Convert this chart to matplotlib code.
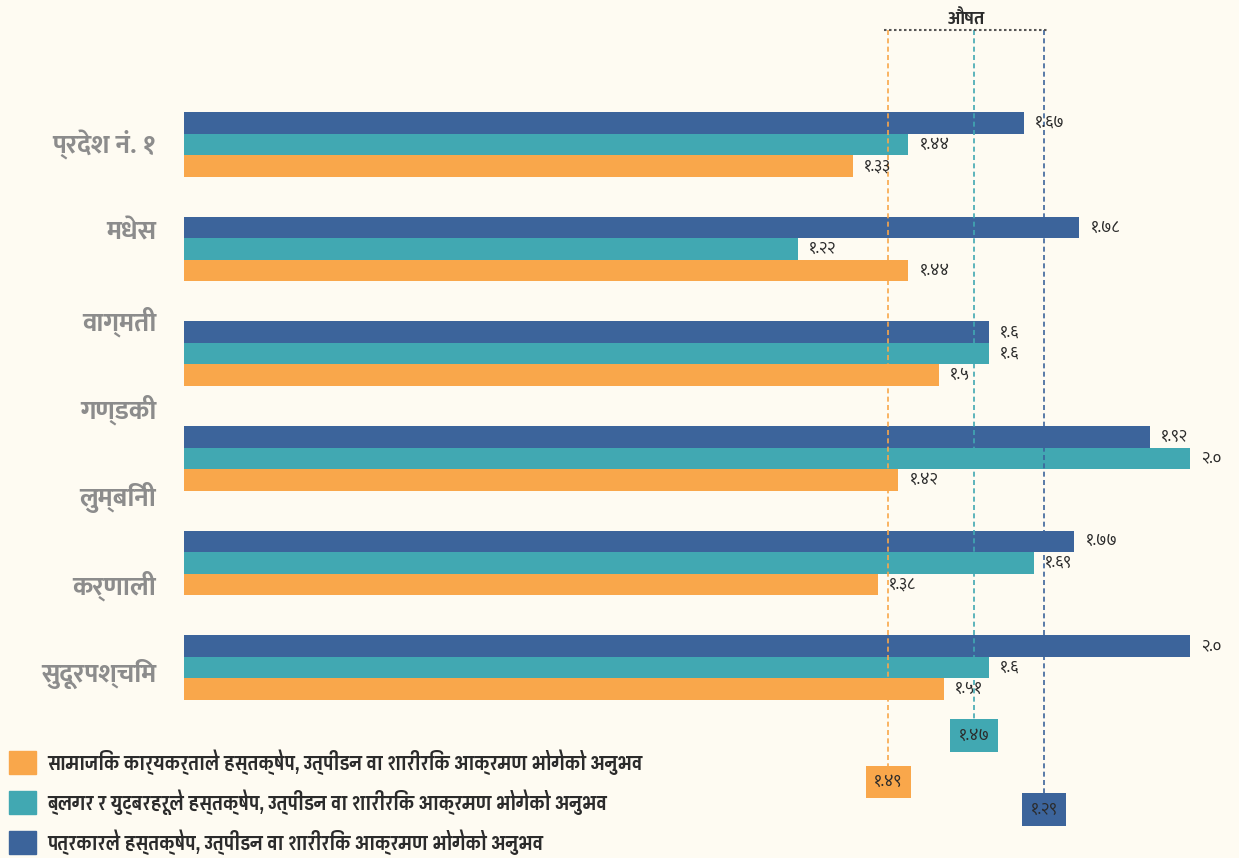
import matplotlib.pyplot as plt
from matplotlib.patches import Patch
import numpy as np

provinces = ["प्रदेश नं. १", "मधेस", "वाग्मती", "गण्डकी", "लुम्बिनी", "कर्णाली", "सुदूरपश्चिम"]
series_names = [
    "सामाजिक कार्यकर्ताले हस्तक्षेप, उत्पीडन वा शारीरिक आक्रमण भोगेको अनुभव",
    "ब्लगर र युट्बरहरूले हस्तक्षेप, उत्पीडन वा शारीरिक आक्रमण भोगेको अनुभव",
    "पत्रकारले हस्तक्षेप, उत्पीडन वा शारीरिक आक्रमण भोगेको अनुभव",
]
# six bar groups as drawn in the source
activists = [1.33, 1.44, 1.5, 1.42, 1.38, 1.51]
bloggers = [1.44, 1.22, 1.6, 2.0, 1.69, 1.6]
journalists = [1.67, 1.78, 1.6, 1.92, 1.77, 2.0]
activist_lbl = ["१.३३", "१.४४", "१.५", "१.४२", "१.३८", "१.५१"]
blogger_lbl = ["१.४४", "१.२२", "१.६", "२.०", "१.६९", "१.६"]
journalist_lbl = ["१.६७", "१.७८", "१.६", "१.९२", "१.७७", "२.०"]

# average markers (line position and printed label as in the source)
avg_pos = [1.40, 1.57, 1.71]
avg_lbl = ["१.४९", "१.४७", "१.२९"]
avg_title = "औषत"

colors = ["#f9a74b", "#41a8b2", "#3c649b"]
bg = "#fefbf2"

fig = plt.figure(figsize=(12.39, 8.58), dpi=100, facecolor=bg)
ax = fig.add_axes([0.1485, 0, 0.8526, 1])
ax.set_facecolor("none")
ax.set_xlim(0, 2.1)
ax.set_ylim(6.821, -1.381)

y = np.arange(len(activists))
h = 0.206
groups = [(journalists, journalist_lbl, colors[2], -h),
          (bloggers, blogger_lbl, colors[1], 0),
          (activists, activist_lbl, colors[0], h)]
for vals, lbls, c, off in groups:
    bars = ax.barh(y + off, vals, height=h, color=c, zorder=2)
    for b, t in zip(bars, lbls):
        ax.annotate(t, (b.get_width(), b.get_y() + b.get_height() / 2),
                    xytext=(8, 0), textcoords="offset points", va="center",
                    ha="left", fontsize=12, color="#2b2b2b", family="Mukta", zorder=4)

# average lines, bracket and boxes
line_top = -1.095
box_y = [6.095, 5.65, 6.357]
for p, t, c, by in zip(avg_pos, avg_lbl, colors, box_y):
    ax.plot([p, p], [line_top, by], ls=(0, (3, 2)), lw=1.2, color=c, zorder=3)
    ax.text(p, by, t, ha="center", va="center", fontsize=12, color="#2b2b2b",
            family="Mukta", zorder=5,
            bbox=dict(boxstyle="square,pad=0.5", fc=c, ec="none"))
ax.plot([min(avg_pos) - 0.008, max(avg_pos) + 0.008], [line_top, line_top],
        ls=(0, (1.2, 1.2)), lw=1.5, color="#555555", zorder=3)
ax.text(np.mean([min(avg_pos), max(avg_pos)]), line_top - 0.01, avg_title,
        ha="center", va="bottom", fontsize=13, fontweight="bold",
        color="#2b2b2b", family="Mukta")

for s in ax.spines.values():
    s.set_visible(False)
ax.set_xticks([])
ax.set_yticks([])

# province labels sit on their own evenly spaced scale
ax2 = ax.twinx()
ax2.set_ylim(8.136, -1.614)
ax2.yaxis.tick_left()
ax2.set_yticks(range(len(provinces)))
ax2.set_yticklabels(provinces, fontsize=19, fontweight="bold", color="#8c8c8c",
                    family="Mukta")
ax2.tick_params(axis="y", length=0, pad=20)
for s in ax2.spines.values():
    s.set_visible(False)

handles = [Patch(color=c) for c in colors]
fig.legend(handles, series_names, loc="lower left", bbox_to_anchor=(-0.003, -0.011),
           frameon=False, handlelength=1.25, handleheight=1.25, handletextpad=0.5,
           labelspacing=0.66, borderaxespad=0.2,
           prop=dict(family="Pragati Narrow", size=15.5, weight="bold"),
           labelcolor="#2b2b2b")

fig.savefig("out.png", dpi=100, facecolor=bg)
